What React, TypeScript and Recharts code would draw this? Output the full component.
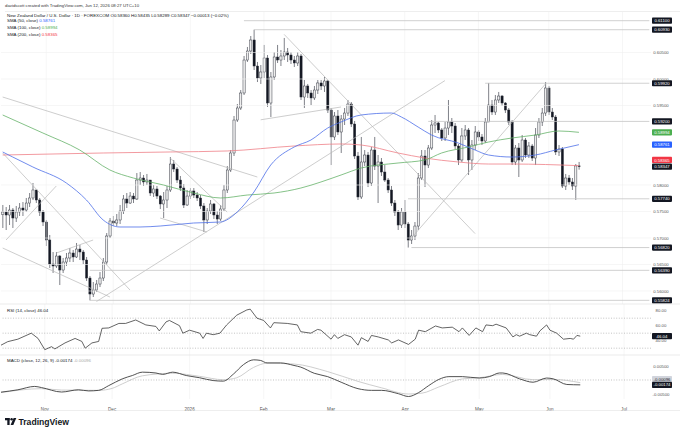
import React from "react";
import { ComposedChart, Bar, Line, XAxis, YAxis, ReferenceLine } from "recharts";

// NZD/USD daily, Oct 15 2025 .. Jun 12 2026 (bar index 0..172)
const firstOpen = 0.5744;
const closes = [
  0.57491, 0.57434, 0.57528, 0.57377, 0.57491, 0.57566, 0.57528, 0.5766, 0.57755, 0.57906,
  0.57717, 0.57491, 0.57302, 0.56962, 0.56509, 0.56472, 0.5666, 0.56396, 0.56547, 0.56623,
  0.56717, 0.56642, 0.56792, 0.56736, 0.56585, 0.56245, 0.55943, 0.56019, 0.56132, 0.56245,
  0.56547, 0.57038, 0.57321, 0.57283, 0.5734, 0.57509, 0.57736, 0.5766, 0.57792, 0.57736,
  0.58094, 0.58132, 0.58057, 0.58094, 0.57849, 0.57925, 0.57792, 0.57642, 0.57717, 0.57906,
  0.58396, 0.58302, 0.58094, 0.57943, 0.57623, 0.57792, 0.57887, 0.57811, 0.57755, 0.57604,
  0.5734, 0.57509, 0.57642, 0.57434, 0.57358, 0.57547, 0.57906, 0.58283, 0.58604, 0.59226,
  0.59453, 0.59736, 0.60358, 0.60528, 0.60736, 0.60245, 0.60019, 0.60132, 0.60396, 0.59547,
  0.60038, 0.60415, 0.60358, 0.60434, 0.60509, 0.60453, 0.60358, 0.60302, 0.60434, 0.5966,
  0.59868, 0.59736, 0.59642, 0.59792, 0.59925, 0.59868, 0.59962, 0.59415, 0.58906, 0.59302,
  0.59, 0.59245, 0.59358, 0.59528, 0.59151, 0.58547, 0.57774, 0.58434, 0.58566, 0.58038,
  0.5866, 0.58358, 0.58434, 0.58245, 0.58094, 0.57906, 0.5766, 0.57491, 0.57245, 0.57491,
  0.57264, 0.56962, 0.57038, 0.57226, 0.58132, 0.58547, 0.58377, 0.58698, 0.59132, 0.5917,
  0.59038, 0.58887, 0.59075, 0.59189, 0.59113, 0.58736, 0.58472, 0.58925, 0.59038, 0.58472,
  0.58755, 0.59, 0.58906, 0.5883, 0.59189, 0.59509, 0.59377, 0.59604, 0.59679, 0.59547,
  0.59415, 0.59189, 0.58434, 0.58698, 0.58472, 0.58849, 0.58566, 0.58736, 0.58509, 0.58943,
  0.59189, 0.59358, 0.5983, 0.59377, 0.59283, 0.58623, 0.58679, 0.57981, 0.58132, 0.58057,
  0.57981, 0.5836, 0.58347,
];
const highs = [
  0.57623, 0.57585, 0.57623, 0.57566, 0.57604, 0.5766, 0.57679, 0.57755, 0.57849, 0.58038,
  0.57906, 0.57755, 0.57528, 0.5734, 0.57057, 0.56736, 0.56736, 0.56679, 0.56623, 0.56717,
  0.56811, 0.56774, 0.56906, 0.56868, 0.56774, 0.56642, 0.56283, 0.5617, 0.56208, 0.56358,
  0.56623, 0.57094, 0.57377, 0.57415, 0.57453, 0.57623, 0.57811, 0.57849, 0.57868, 0.57849,
  0.58226, 0.58245, 0.58189, 0.58208, 0.58094, 0.58, 0.57981, 0.57811, 0.57868, 0.57981,
  0.58528, 0.58472, 0.5834, 0.5817, 0.58019, 0.57906, 0.57943, 0.57943, 0.57868, 0.57811,
  0.5766, 0.57566, 0.57717, 0.5766, 0.57509, 0.57623, 0.58, 0.58358, 0.5866, 0.59302,
  0.59528, 0.59792, 0.60434, 0.60604, 0.60811, 0.6093, 0.60321, 0.60264, 0.60642, 0.60453,
  0.60132, 0.60509, 0.60642, 0.60547, 0.60774, 0.60585, 0.60509, 0.60434, 0.60509, 0.60472,
  0.59981, 0.59906, 0.59792, 0.59868, 0.59981, 0.59981, 0.60038, 0.59981, 0.59453, 0.59377,
  0.59415, 0.59321, 0.59453, 0.59604, 0.59566, 0.59208, 0.58623, 0.58906, 0.5866, 0.58623,
  0.58717, 0.58906, 0.58566, 0.58509, 0.58377, 0.58132, 0.57981, 0.57717, 0.57528, 0.57566,
  0.57717, 0.57302, 0.57151, 0.57302, 0.58226, 0.5866, 0.5866, 0.58755, 0.59226, 0.59321,
  0.59189, 0.59075, 0.59189, 0.59604, 0.59264, 0.5917, 0.58774, 0.59075, 0.59132, 0.59075,
  0.58849, 0.59113, 0.59038, 0.58962, 0.59264, 0.59925, 0.59604, 0.59698, 0.59755, 0.59698,
  0.59566, 0.59453, 0.59226, 0.58755, 0.58792, 0.58943, 0.58887, 0.58811, 0.58774, 0.59075,
  0.59264, 0.59453, 0.59943, 0.59868, 0.59453, 0.59321, 0.58755, 0.58717, 0.58208, 0.58189,
  0.58132, 0.58396, 0.58435,
];
const lows = [
  0.57189, 0.57151, 0.57245, 0.57189, 0.57302, 0.57415, 0.57415, 0.57491, 0.57585, 0.57717,
  0.5766, 0.57415, 0.57226, 0.56849, 0.56434, 0.5634, 0.56434, 0.56113, 0.5634, 0.56472,
  0.56547, 0.56547, 0.56623, 0.56585, 0.56509, 0.56189, 0.55824, 0.55887, 0.55981, 0.56075,
  0.56189, 0.56491, 0.57, 0.57226, 0.57226, 0.57264, 0.57453, 0.57566, 0.57642, 0.5766,
  0.57717, 0.58, 0.57981, 0.58, 0.57792, 0.57774, 0.57736, 0.57547, 0.57377, 0.57566,
  0.57868, 0.58245, 0.58038, 0.57887, 0.57566, 0.57604, 0.57736, 0.57755, 0.57698, 0.57547,
  0.57113, 0.57264, 0.57453, 0.57358, 0.57264, 0.57321, 0.57509, 0.57849, 0.58245, 0.58547,
  0.59189, 0.59415, 0.59698, 0.60321, 0.60472, 0.6017, 0.59943, 0.59906, 0.60019, 0.59472,
  0.59283, 0.59981, 0.60302, 0.60245, 0.60358, 0.60321, 0.60283, 0.60226, 0.60245, 0.59604,
  0.59453, 0.59642, 0.59509, 0.59604, 0.59717, 0.59792, 0.59755, 0.59358, 0.58377, 0.58849,
  0.58943, 0.58604, 0.59132, 0.59302, 0.59094, 0.58491, 0.57717, 0.57736, 0.58358, 0.57962,
  0.57981, 0.58283, 0.5766, 0.5817, 0.58057, 0.57849, 0.57604, 0.57415, 0.57151, 0.57189,
  0.57189, 0.5682, 0.56887, 0.56962, 0.57151, 0.58094, 0.57962, 0.58321, 0.5866, 0.58981,
  0.58981, 0.5883, 0.5883, 0.58943, 0.58981, 0.58679, 0.58377, 0.58434, 0.58849, 0.58189,
  0.58283, 0.5866, 0.5883, 0.58755, 0.58792, 0.59189, 0.59321, 0.59321, 0.59547, 0.59491,
  0.59358, 0.59132, 0.58377, 0.58377, 0.58151, 0.58434, 0.58509, 0.58509, 0.58453, 0.58377,
  0.58887, 0.59113, 0.59302, 0.59321, 0.59226, 0.58566, 0.58547, 0.57943, 0.57906, 0.58,
  0.57906, 0.57717, 0.58289,
];

// moving averages read at sample bars: [bar index, value]
const sma50 = [
  [0, 0.58623], [3, 0.58528], [9, 0.5834], [19, 0.58038], [25, 0.57717], [30, 0.5734],
  [35, 0.57208], [41, 0.57208], [47, 0.57226], [57, 0.57283], [65, 0.57302], [70, 0.57491],
  [75, 0.57868], [80, 0.58377], [87, 0.58717], [92, 0.58849], [97, 0.59075], [101, 0.59189],
  [107, 0.59321], [116, 0.59358], [119, 0.59283], [124, 0.59094], [128, 0.58943], [136, 0.58792],
  [141, 0.5866], [145, 0.58566], [152, 0.58528], [159, 0.58566], [165, 0.5866], [172, 0.58761],
];
const sma100 = [
  [0, 0.59321], [12, 0.58981], [23, 0.5866], [32, 0.58283], [39, 0.58132], [48, 0.58],
  [57, 0.57849], [65, 0.57755], [73, 0.57811], [81, 0.57849], [89, 0.57943], [95, 0.58057],
  [101, 0.58189], [107, 0.58321], [118, 0.58415], [126, 0.58472], [131, 0.58604], [139, 0.58717],
  [145, 0.58811], [152, 0.58887], [159, 0.58943], [166, 0.59019], [172, 0.58994],
];
const sma200 = [
  [0, 0.58566], [30, 0.58604], [50, 0.58623], [67, 0.58642], [87, 0.58736], [101, 0.58774],
  [107, 0.58755], [118, 0.58604], [126, 0.58509], [136, 0.58434], [145, 0.58396], [152, 0.58396],
  [172, 0.58365],
];

const rsi14 = [
  [0, 34], [2, 38.7], [5, 42], [9, 50], [11, 43], [13, 28], [15, 32], [16, 29], [19, 37], [22, 43],
  [24, 39], [25, 30], [27, 37], [29, 39], [30, 56.5], [32, 57], [35, 63], [37, 63], [40, 67.6],
  [43, 61], [46, 59], [47, 53], [49, 65], [50, 67], [53, 60], [54, 50], [56, 54], [59, 50], [60, 43],
  [61, 50], [63, 48], [65, 50], [67, 61], [70, 74], [73, 81], [74, 82], [76, 70], [78, 67], [80, 57],
  [81, 64], [85, 63], [88, 61], [89, 52], [92, 50], [94, 55], [95, 54], [98, 42], [99, 48], [100, 43],
  [102, 48], [104, 45], [106, 34], [107, 44], [109, 39], [110, 47], [112, 45], [115, 41], [116, 37],
  [118, 41], [121, 35], [123, 42], [124, 54], [126, 52], [129, 59.6], [131, 57], [134, 58], [136, 52],
  [137, 57], [139, 47], [141, 57], [143, 52], [144, 61], [146, 60], [147, 62], [150, 57], [152, 45],
  [153, 48], [154, 46], [156, 50], [157, 48], [159, 46], [160, 53], [162, 61], [163, 54], [165, 50],
  [167, 42], [169, 43], [170, 42], [171, 47], [172, 46.04],
];
const macdLine = [
  [0, -0.00435], [5, -0.0035], [10, -0.0023], [12, -0.0027], [18, -0.0043], [23, -0.0035],
  [26, -0.0039], [29, -0.0037], [32, -0.002], [36, 0.0004], [39, 0.0016], [42, 0.0028],
  [46, 0.0025], [48, 0.002], [51, 0.0028], [55, 0.0016], [59, 0.0008], [63, -0.0002],
  [66, -0.0004], [69, 0.0021], [72, 0.0055], [75, 0.0072], [77, 0.007], [79, 0.0061],
  [83, 0.0061], [87, 0.0052], [89, 0.0046], [93, 0.0024], [97, 0.0012], [101, -0.0008],
  [106, -0.0031], [110, -0.0037], [113, -0.0037], [118, -0.0049], [121, -0.0059], [124, -0.0045],
  [127, -0.002], [130, 0.0002], [133, 0.0012], [137, 0.0012], [142, 0.0007], [145, 0.0012],
  [148, 0.0025], [149, 0.0025], [154, 0.0004], [158, -0.0008], [162, 0.0007], [164, 0.0004],
  [168, -0.0016], [172, -0.00174],
];
const macdSignal = [
  [0, -0.0045], [12, -0.0031], [18, -0.0036], [29, -0.0037], [33, -0.003], [36, -0.0014],
  [42, 0.0015], [51, 0.0024], [59, 0.0013], [66, 0.0001], [70, 0.0008], [75, 0.0045],
  [79, 0.006], [87, 0.0057], [97, 0.003], [106, -0.0005], [113, -0.0028], [121, -0.005],
  [125, -0.0047], [130, -0.0025], [137, 0.0004], [142, 0.0008], [149, 0.002], [158, 0.0001],
  [164, 0.0002], [172, -0.00096],
];

const monthTicks = [13, 33, 56, 78, 98, 120, 142, 163, 185];
const monthLabels = ["Nov", "Dec", "2026", "Feb", "Mar", "Apr", "May", "Jun", "Jul"];
const priceTicks = [0.605, 0.6, 0.595, 0.58, 0.575, 0.57, 0.565, 0.56];
const rsiTicks = [80, 60, 40];
const macdTicks = [0.005, -0.005];

// horizontal levels: [start bar, price]
const levels = [
  [72, 0.611], [75, 0.6093], [144, 0.5992], [127, 0.592],
  [121, 0.5774], [122, 0.5682], [26, 0.5639], [26, 0.55824],
];
// trend lines: [bar, price, bar, price]
const trendLines = [
  [0, 0.58604, 38, 0.56019],
  [0, 0.5966, 76, 0.58151],
  [28, 0.55802, 132, 0.5997],
  [84, 0.60842, 141, 0.57083],
  [121, 0.56928, 162, 0.59906],
  [77, 0.5923, 101, 0.59472],
  [50, 0.58509, 67, 0.57491],
  [47, 0.57377, 61, 0.57113],
  [1, 0.56962, 16, 0.57981],
  [16, 0.56717, 27, 0.56962],
  [0, 0.56811, 32, 0.55887],
];

const SLOTS = 194;
const FONT = "'Liberation Sans', Arial, sans-serif";
const W = 680;

const rows: any[] = Array.from({ length: SLOTS }, (_, i) => ({ i }));
closes.forEach((c, i) => {
  rows[i].o = i === 0 ? firstOpen : closes[i - 1];
  rows[i].h = highs[i];
  rows[i].l = lows[i];
  rows[i].c = c;
});
const put = (pts: number[][], key: string) => pts.forEach(([i, v]) => (rows[i][key] = v));
put(sma50, "sma50");
put(sma100, "sma100");
put(sma200, "sma200");
put(rsi14, "rsi");
put(macdLine, "macd");
put(macdSignal, "signal");

function Candle(props: any) {
  const { x, y, width, height, payload } = props;
  if (payload == null || payload.h == null) return <g />;
  const { o, h, l, c } = payload;
  const top = Math.min(y, y + height);
  const hh = Math.abs(height);
  const k = hh / (h - l || 1e-9);
  const cx = x + width / 2;
  const b1 = top + (h - Math.max(o, c)) * k;
  const b2 = top + (h - Math.min(o, c)) * k;
  const up = c >= o;
  const bw = 2.2;
  return (
    <g>
      <line x1={cx} x2={cx} y1={top} y2={top + hh} stroke="#2a2e39" strokeWidth={0.6} />
      <rect
        x={cx - bw / 2}
        y={b1}
        width={bw}
        height={Math.max(b2 - b1, 0.5)}
        fill={up ? "#eeeeee" : "#131722"}
        stroke="#2a2e39"
        strokeWidth={0.45}
      />
    </g>
  );
}

function Tag(props: any) {
  const { viewBox, text, bg = "#131722", fg = "#ffffff", dy = 0 } = props;
  if (!viewBox) return null;
  const x = viewBox.x + viewBox.width + 1;
  const y = viewBox.y + dy;
  return (
    <g>
      <rect x={x} y={y - 3.1} width={20} height={6.2} rx={0.8} fill={bg} />
      <text x={x + 10} y={y + 1.6} textAnchor="middle" fontSize={4.3} fill={fg} fontFamily={FONT}>
        {text}
      </text>
    </g>
  );
}

const axisTick = (digits: number) => (p: any) => (
  <text x={661} y={p.y} dy={1.6} textAnchor="middle" fontSize={4.3} fill="#555" fontFamily={FONT}>
    {Number(p.payload.value).toFixed(digits)}
  </text>
);

const monthTick = (p: any) => {
  const k = monthTicks.indexOf(p.payload.value);
  if (k < 0) return <g />;
  return (
    <text x={p.x} y={p.y + 4} textAnchor="middle" fontSize={4.6} fill="#555" fontFamily={FONT}>
      {monthLabels[k]}
    </text>
  );
};

const gridX = () =>
  monthTicks.map((m) => <ReferenceLine key={"gx" + m} x={m} stroke="#f0f0f0" strokeWidth={0.6} />);

export default function App() {
  return (
    <div style={{ position: "fixed", left: 0, top: 0, width: W, height: 433, background: "#fff", overflow: "hidden" }}>
      <div style={{ position: "absolute", left: 0, top: 12 }}>
        <ComposedChart width={W} height={292} data={rows} margin={{ top: 0, right: 0, bottom: 0, left: 1 }}>
          <XAxis dataKey="i" hide />
          <YAxis
            orientation="right"
            width={29}
            domain={[0.55755, 0.61264]}
            allowDataOverflow
            ticks={priceTicks}
            interval={0}
            axisLine={false}
            tickLine={false}
            tick={axisTick(5)}
          />
          {gridX()}
          {priceTicks.map((t) => (
            <ReferenceLine key={"gy" + t} y={t} stroke="#f0f0f0" strokeWidth={0.6} />
          ))}
          {trendLines.map(([a, p, b, q], k) => (
            <ReferenceLine
              key={"t" + k}
              segment={[{ x: a, y: p }, { x: b, y: q }]}
              stroke="#b8b8b8"
              strokeWidth={0.7}
            />
          ))}
          {levels.map(([a, p], k) => (
            <ReferenceLine
              key={"h" + k}
              segment={[{ x: a, y: p }, { x: SLOTS - 1, y: p }]}
              stroke="#c4c4c4"
              strokeWidth={0.8}
            />
          ))}
          <Line dataKey="sma200" stroke="#ef8088" strokeWidth={0.8} dot={false} type="monotone" connectNulls isAnimationActive={false} />
          <Line dataKey="sma100" stroke="#66b36a" strokeWidth={0.8} dot={false} type="monotone" connectNulls isAnimationActive={false} />
          <Line dataKey="sma50" stroke="#4d6fe8" strokeWidth={0.8} dot={false} type="monotone" connectNulls isAnimationActive={false} />
          <Bar dataKey={(d: any) => (d.h == null ? null : [d.l, d.h])} shape={<Candle />} isAnimationActive={false} />
          {levels.map(([, p], k) => (
            <ReferenceLine key={"lt" + k} y={p} stroke="none" label={<Tag text={p.toFixed(5)} />} />
          ))}
          <ReferenceLine y={0.58994} stroke="none" label={<Tag text="0.58994" bg="#4caf50" />} />
          <ReferenceLine y={0.58761} stroke="none" label={<Tag text="0.58761" bg="#2962ff" />} />
          <ReferenceLine y={0.58365} stroke="none" label={<Tag text="0.58365" bg="#f23645" dy={-5.7} />} />
          <ReferenceLine y={0.58347} stroke="none" label={<Tag text="0.58347" />} />
        </ComposedChart>
      </div>

      <div style={{ position: "absolute", left: 0, top: 304 }}>
        <ComposedChart width={W} height={51} data={rows} margin={{ top: 0, right: 0, bottom: 0, left: 1 }}>
          <XAxis dataKey="i" hide />
          <YAxis
            orientation="right"
            width={29}
            domain={[20.9, 88.9]}
            allowDataOverflow
            ticks={rsiTicks}
            interval={0}
            axisLine={false}
            tickLine={false}
            tick={axisTick(2)}
          />
          {gridX()}
          {[70, 50, 30].map((v) => (
            <ReferenceLine key={"r" + v} y={v} stroke="#9a9a9a" strokeWidth={0.6} strokeDasharray="1 1.6" />
          ))}
          <Line dataKey="rsi" stroke="#3d3d3d" strokeWidth={0.8} dot={false} type="linear" connectNulls isAnimationActive={false} />
          <ReferenceLine y={46.04} stroke="none" label={<Tag text="46.04" />} />
        </ComposedChart>
      </div>

      <div style={{ position: "absolute", left: 0, top: 355 }}>
        <ComposedChart width={W} height={56} data={rows} margin={{ top: 0, right: 0, bottom: 0, left: 1 }}>
          <XAxis
            dataKey="i"
            height={12}
            interval={0}
            axisLine={false}
            tickLine={false}
            tick={monthTick}
          />
          <YAxis
            orientation="right"
            width={29}
            domain={[-0.00679, 0.00893]}
            allowDataOverflow
            ticks={macdTicks}
            interval={0}
            axisLine={false}
            tickLine={false}
            tick={axisTick(5)}
          />
          {gridX()}
          <ReferenceLine y={0} stroke="#9a9a9a" strokeWidth={0.6} strokeDasharray="1 1.6" />
          <Line dataKey="signal" stroke="#c2c2c2" strokeWidth={0.8} dot={false} type="monotone" connectNulls isAnimationActive={false} />
          <Line dataKey="macd" stroke="#3d3d3d" strokeWidth={0.9} dot={false} type="monotone" connectNulls isAnimationActive={false} />
          <ReferenceLine y={-0.00096} stroke="none" label={<Tag text="-0.00096" bg="#d1d4dc" fg="#131722" dy={-3.7} />} />
          <ReferenceLine y={-0.00174} stroke="none" label={<Tag text="-0.00174" />} />
        </ComposedChart>
      </div>

      <svg width={W} height={433} style={{ position: "absolute", left: 0, top: 0, pointerEvents: "none" }} fontFamily={FONT}>
        <line x1={5} x2={W} y1={11.5} y2={11.5} stroke="#e3e3e3" strokeWidth={0.6} />
        <line x1={0} x2={W} y1={304} y2={304} stroke="#e6e6e6" strokeWidth={0.8} />
        <line x1={0} x2={W} y1={355} y2={355} stroke="#e6e6e6" strokeWidth={0.8} />
        <line x1={0} x2={W} y1={410.5} y2={410.5} stroke="#e3e3e3" strokeWidth={0.6} />
        <text x={5} y={6.5} fontSize={4.3} fill="#333">
          davidscott created with TradingView.com, Jun 12, 2026 08:27 UTC+10
        </text>
        <text x={7} y={16.5} fontSize={4.4} fill="#131722">
          New Zealand Dollar / U.S. Dollar · 1D · FOREXCOM{"  "}
          <tspan>O0.58360 H0.58435 L0.58289 C0.58347 −0.00013 (−0.02%)</tspan>
        </text>
        <text x={7} y={22.3} fontSize={4.4} fill="#131722">
          SMA (50, close) <tspan fill="#2962ff">0.58761</tspan>
        </text>
        <text x={7} y={29.1} fontSize={4.4} fill="#131722">
          SMA (100, close) <tspan fill="#4caf50">0.58994</tspan>
        </text>
        <text x={7} y={35.9} fontSize={4.4} fill="#131722">
          SMA (200, close) <tspan fill="#f23645">0.58365</tspan>
        </text>
        <text x={7} y={311.5} fontSize={4.4} fill="#131722">
          RSI (14, close) <tspan>46.04</tspan>
        </text>
        <text x={7} y={362.3} fontSize={4.4} fill="#131722">
          MACD (close, 12, 26, 9) <tspan>-0.00174</tspan> <tspan fill="#aaaaaa">-0.00096</tspan>
        </text>
        <g fill="#131722">
          <rect x={5} y={418} width={4.6} height={2.3} />
          <rect x={7.3} y={418} width={2.3} height={7} />
          <circle cx={11.6} cy={419.3} r={1.25} />
          <polygon points="13.6,418 16.3,418 13.3,425 10.6,425" />
          <text x={18.5} y={425} fontSize={8.6} fontWeight={600}>
            TradingView
          </text>
        </g>
      </svg>
    </div>
  );
}
